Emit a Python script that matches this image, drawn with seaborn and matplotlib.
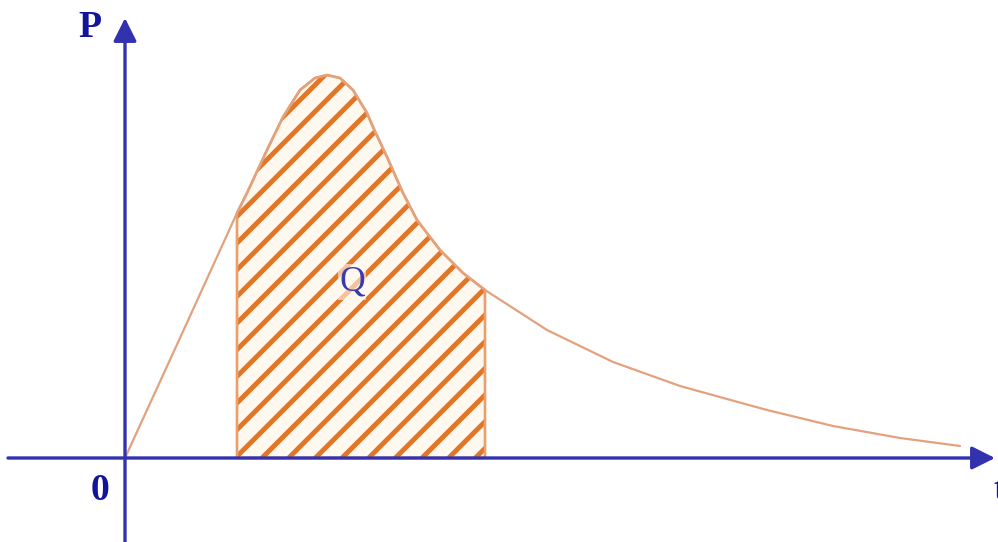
import numpy as np
import pandas as pd
import matplotlib
matplotlib.use("Agg")
import matplotlib.pyplot as plt
import seaborn as sns

# ---- data ----
t_vals = [0.00, 0.55, 1.12, 1.22, 1.42, 1.58, 1.75, 1.90, 2.02, 2.15, 2.28, 2.42,
          2.48, 2.62, 2.78, 2.92, 3.15, 3.38, 3.60, 4.22, 4.88, 5.55, 6.02, 6.42,
          7.08, 7.75, 8.35]
p_vals = [0.00, 1.20, 2.45, 2.65, 3.08, 3.41, 3.68, 3.80, 3.83, 3.80, 3.68, 3.45,
          3.31, 3.01, 2.65, 2.38, 2.08, 1.85, 1.68, 1.28, 0.96, 0.72, 0.59, 0.48,
          0.32, 0.20, 0.12]
shade_from = 1.12
shade_to = 3.60
axis_labels = ["P", "t", "0"]
area_label = "Q"

DPI = 160
sns.set_theme(style="white")
plt.rcParams["hatch.linewidth"] = 2.2

fig = plt.figure(figsize=(998 / DPI, 542 / DPI), dpi=DPI)
ax = fig.add_axes([0, 0, 1, 1])
ax.set_xlim(-1.25, 8.73)
ax.set_ylim(-0.84, 4.58)
ax.axis("off")

df = pd.DataFrame({"t": t_vals, "P": p_vals})
t = df["t"].to_numpy()
p = df["P"].to_numpy()
mask = (t >= shade_from - 1e-9) & (t <= shade_to + 1e-9)

# hatched area
ax.fill_between(t[mask], 0, p[mask], facecolor="#FFF8EE", edgecolor="#E27526",
                hatch="//", linewidth=0, zorder=1)
ax.fill_between(t[mask], 0, p[mask], facecolor="none", edgecolor="#E9A06C",
                linewidth=1.2, zorder=2)

# curve
sns.lineplot(data=df, x="t", y="P", ax=ax, color="#E2A27E", linewidth=1.0,
             sort=False, zorder=3)

# axes with arrows
axis_color = "#3232AE"
ax.annotate("", xy=(8.70, 0.0), xytext=(-1.17, 0.0),
            arrowprops=dict(arrowstyle="-|>", color=axis_color, lw=1.5,
                            mutation_scale=22, shrinkA=0, shrinkB=0), zorder=4)
ax.annotate("", xy=(0.0, 4.40), xytext=(0.0, -0.86),
            arrowprops=dict(arrowstyle="-|>", color=axis_color, lw=1.5,
                            mutation_scale=22, shrinkA=0, shrinkB=0), zorder=4)

txt_color = "#14149A"
ax.text(-0.35, 4.31, axis_labels[0], fontsize=17, fontweight="bold",
        family="Liberation Serif", color=txt_color, ha="center", va="center")
ax.text(8.68, -0.32, axis_labels[1], fontsize=17, fontweight="bold",
        family="Liberation Serif", color=txt_color, ha="left", va="center")
ax.text(-0.25, -0.33, axis_labels[2], fontsize=17, fontweight="bold",
        family="Liberation Serif", color=txt_color, ha="center", va="center")
ax.text(2.27, 1.76, area_label, fontsize=16, family="Liberation Serif",
        color="#3A3AB2", ha="center", va="center", zorder=5,
        bbox=dict(facecolor="#FFF8EE", edgecolor="none", pad=0.5, alpha=0.6))

fig.savefig("out.png", dpi=DPI)
